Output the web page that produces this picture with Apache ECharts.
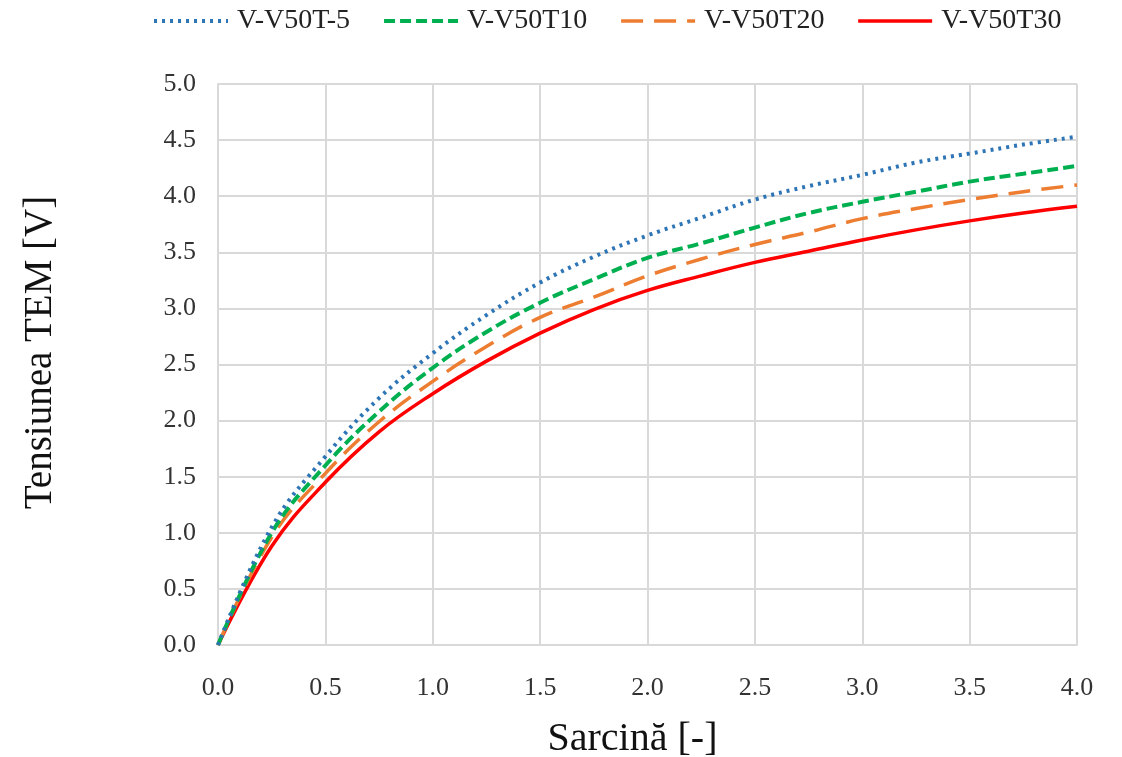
<!DOCTYPE html>
<html>
<head>
<meta charset="utf-8">
<script src="https://cdn.jsdelivr.net/npm/echarts@6/dist/echarts.min.js"></script>
<style>
  html, body { margin: 0; padding: 0; background: #ffffff; }
  #chart { width: 1122px; height: 757px; }
</style>
</head>
<body>
<div id="chart"></div>
<script>
// Load ratio (x) sample points
const sarcina = [0, 0.25, 0.5, 0.75, 1.0, 1.25, 1.5, 1.75, 2.0, 2.25, 2.5, 2.75, 3.0, 3.25, 3.5, 3.75, 4.0];

// EMF voltage per test configuration
const vT_5 = [0, 1.05, 1.68, 2.20, 2.60, 2.94, 3.23, 3.46, 3.65, 3.81, 3.97, 4.09, 4.19, 4.30, 4.38, 4.46, 4.53];
const vT10 = [0, 1.00, 1.60, 2.08, 2.47, 2.79, 3.05, 3.26, 3.45, 3.58, 3.72, 3.85, 3.95, 4.04, 4.13, 4.20, 4.27];
const vT20 = [0, 0.96, 1.53, 1.99, 2.35, 2.66, 2.92, 3.10, 3.29, 3.44, 3.57, 3.68, 3.80, 3.89, 3.97, 4.04, 4.10];
const vT30 = [0, 0.88, 1.45, 1.90, 2.24, 2.53, 2.78, 2.99, 3.16, 3.29, 3.41, 3.51, 3.61, 3.70, 3.78, 3.85, 3.91];

const seriesNames = ['V-V50T-5', 'V-V50T10', 'V-V50T20', 'V-V50T30'];

const pairs = (ys) => sarcina.map((x, i) => [x, ys[i]]);

const FONT = '"Liberation Serif", "DejaVu Serif", serif';

const styles = [
  { color: '#2E75B6', type: [3, 5],   width: 4 },
  { color: '#00B050', type: [11, 5],  width: 4 },
  { color: '#ED7D31', type: [22, 11], width: 3.5 },
  { color: '#FF0000', type: 'solid',  width: 3.5 }
];

const dataSets = [vT_5, vT10, vT20, vT30];

const chart = echarts.init(document.getElementById('chart'));
chart.setOption({
  animation: false,
  backgroundColor: '#ffffff',
  textStyle: { fontFamily: FONT },
  legend: {
    top: 2,
    left: 147,
    itemWidth: 74,
    itemHeight: 14,
    itemGap: 32,
    itemStyle: { opacity: 0 },
    textStyle: { fontFamily: FONT, fontSize: 28, color: '#222', padding: [0, 0, 0, 4] },
    data: seriesNames.map((name, i) => ({
      name: name,
      lineStyle: { color: styles[i].color, type: styles[i].type, width: styles[i].width }
    }))
  },
  grid: { left: 218, right: 45, top: 84, bottom: 112, outerBoundsMode: 'none' },
  xAxis: {
    type: 'value',
    min: 0, max: 4, interval: 0.5,
    name: 'Sarcină [-]',
    nameLocation: 'middle',
    nameGap: 74,
    nameTextStyle: { fontFamily: FONT, fontSize: 40, color: '#111', padding: [0, 30, 0, 0] },
    axisLine: { show: true, lineStyle: { color: '#d9d9d9', width: 2 } },
    axisTick: { show: false },
    axisLabel: {
      margin: 30, fontFamily: FONT, fontSize: 26, color: '#333',
      formatter: (v) => v.toFixed(1)
    },
    splitLine: { show: true, lineStyle: { color: '#d9d9d9', width: 2 } }
  },
  yAxis: {
    type: 'value',
    min: 0, max: 5, interval: 0.5,
    name: 'Tensiunea TEM [V]',
    nameLocation: 'middle',
    nameGap: 158,
    nameTextStyle: { fontFamily: FONT, fontSize: 39, color: '#111', padding: [0, 0, 0, 24] },
    axisLine: { show: true, lineStyle: { color: '#d9d9d9', width: 2 } },
    axisTick: { show: false },
    axisLabel: {
      margin: 22, fontFamily: FONT, fontSize: 26, color: '#333',
      formatter: (v) => v.toFixed(1)
    },
    splitLine: { show: true, lineStyle: { color: '#d9d9d9', width: 2 } }
  },
  series: seriesNames.map((name, i) => ({
    name: name,
    type: 'line',
    smooth: 0.4,
    showSymbol: false,
    symbol: 'none',
    data: pairs(dataSets[i]),
    itemStyle: { color: styles[i].color },
    lineStyle: { color: styles[i].color, type: styles[i].type, width: styles[i].width },
    z: 10 - i
  }))
});
</script>
</body>
</html>
